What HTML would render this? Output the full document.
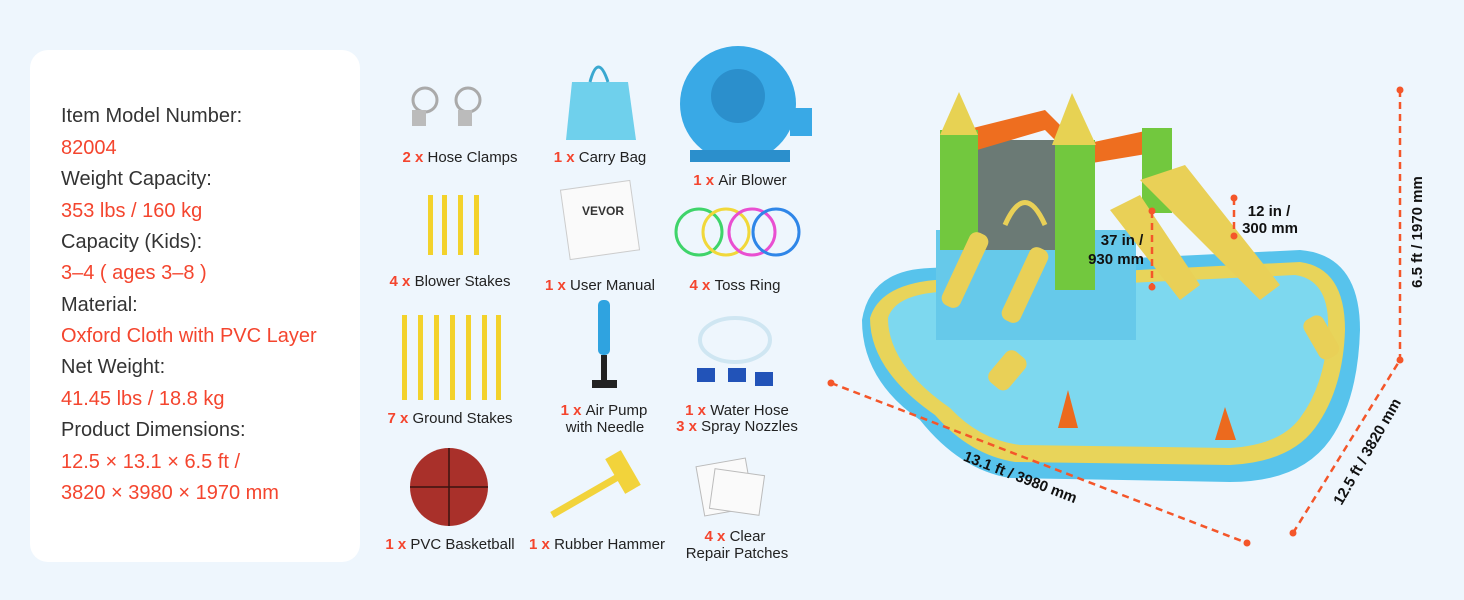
<!DOCTYPE html>
<html><head><meta charset="utf-8"><style>
html,body{margin:0;padding:0;background:#eef6fd;}
svg{display:block;font-family:"Liberation Sans",sans-serif;}
</style></head><body>
<svg width="1464" height="600" viewBox="0 0 1464 600" xmlns="http://www.w3.org/2000/svg">
<rect width="1464" height="600" fill="#eef6fd"/>
<rect x="30" y="50" width="330" height="512" rx="18" fill="#ffffff"/>
<g font-size="20" fill="#333">
<text x="61" y="122">Item Model Number:</text>
<text x="61" y="154" fill="#f4452e">82004</text>
<text x="61" y="185">Weight Capacity:</text>
<text x="61" y="217" fill="#f4452e">353 lbs / 160 kg</text>
<text x="61" y="248">Capacity (Kids):</text>
<text x="61" y="279" fill="#f4452e">3–4 ( ages 3–8 )</text>
<text x="61" y="311">Material:</text>
<text x="61" y="342" fill="#f4452e">Oxford Cloth with PVC Layer</text>
<text x="61" y="373">Net Weight:</text>
<text x="61" y="405" fill="#f4452e">41.45 lbs / 18.8 kg</text>
<text x="61" y="436">Product Dimensions:</text>
<text x="61" y="468" fill="#f4452e">12.5 × 13.1 × 6.5 ft /</text>
<text x="61" y="499" fill="#f4452e">3820 × 3980 × 1970 mm</text>
</g>

<g>
<circle cx="425" cy="100" r="12" fill="none" stroke="#aaa" stroke-width="3"/>
<circle cx="468" cy="100" r="12" fill="none" stroke="#aaa" stroke-width="3"/>
<rect x="412" y="110" width="14" height="16" fill="#bbb"/><rect x="458" y="110" width="14" height="16" fill="#bbb"/>
<path d="M572 82 L628 82 L636 140 L566 140 Z" fill="#6fd0ec"/>
<path d="M590 82 Q598 52 608 82" fill="none" stroke="#3aa8d0" stroke-width="3"/>
<circle cx="738" cy="104" r="58" fill="#39a9e6"/>
<circle cx="738" cy="96" r="27" fill="#2b8fcc"/>
<rect x="790" y="108" width="22" height="28" fill="#39a9e6"/>
<rect x="690" y="150" width="100" height="12" fill="#2b8fcc"/>
<g fill="#f3d22b"><rect x="428" y="195" width="5" height="60"/><rect x="442" y="195" width="5" height="60"/><rect x="458" y="195" width="5" height="60"/><rect x="474" y="195" width="5" height="60"/></g>
<rect x="565" y="185" width="70" height="70" fill="#fafafa" stroke="#ccc" transform="rotate(-8 600 220)"/>
<text x="582" y="215" font-size="12" font-weight="bold" fill="#333">VEVOR</text>
<circle cx="699" cy="232" r="23" fill="none" stroke="#3fd46a" stroke-width="3"/>
<circle cx="726" cy="232" r="23" fill="none" stroke="#f1d83a" stroke-width="3"/>
<circle cx="752" cy="232" r="23" fill="none" stroke="#e94fd1" stroke-width="3"/>
<circle cx="776" cy="232" r="23" fill="none" stroke="#2f86e8" stroke-width="3"/>
<g fill="#f3d22b"><rect x="402" y="315" width="5" height="85"/><rect x="418" y="315" width="5" height="85"/><rect x="434" y="315" width="5" height="85"/><rect x="450" y="315" width="5" height="85"/><rect x="466" y="315" width="5" height="85"/><rect x="482" y="315" width="5" height="85"/><rect x="496" y="315" width="5" height="85"/></g>
<rect x="598" y="300" width="12" height="55" rx="5" fill="#2fa3e0"/>
<rect x="601" y="355" width="6" height="25" fill="#222"/>
<rect x="592" y="380" width="25" height="8" fill="#222"/>
<ellipse cx="735" cy="340" rx="35" ry="22" fill="none" stroke="#cfe6f2" stroke-width="4"/>
<rect x="697" y="368" width="18" height="14" fill="#2253b8"/><rect x="728" y="368" width="18" height="14" fill="#2253b8"/><rect x="755" y="372" width="18" height="14" fill="#2253b8"/>
<circle cx="449" cy="487" r="39" fill="#a9302a"/>
<path d="M410 487 H488 M449 448 V526" stroke="#3a1210" stroke-width="1.5"/>
<path d="M552 515 L630 470" stroke="#f2d33b" stroke-width="7"/>
<rect x="614" y="452" width="18" height="40" fill="#f2d33b" transform="rotate(-30 623 472)"/>
<rect x="700" y="462" width="50" height="50" fill="#fafafa" stroke="#bbb" transform="rotate(-10 725 487)"/>
<rect x="712" y="472" width="50" height="40" fill="#fafafa" stroke="#bbb" transform="rotate(8 737 492)"/>
</g>

<g font-size="15" fill="#222" text-anchor="middle">
<text x="460" y="162"><tspan fill="#f4452e" font-weight="bold">2 x </tspan>Hose Clamps</text>
<text x="600" y="162"><tspan fill="#f4452e" font-weight="bold">1 x </tspan> Carry Bag</text>
<text x="740" y="185"><tspan fill="#f4452e" font-weight="bold">1 x </tspan>Air Blower</text>
<text x="450" y="286"><tspan fill="#f4452e" font-weight="bold">4 x </tspan>Blower Stakes</text>
<text x="600" y="290"><tspan fill="#f4452e" font-weight="bold">1 x </tspan>User Manual</text>
<text x="735" y="290"><tspan fill="#f4452e" font-weight="bold">4 x </tspan> Toss Ring</text>
<text x="450" y="423"><tspan fill="#f4452e" font-weight="bold">7 x </tspan>Ground Stakes</text>
<text x="604" y="415"><tspan fill="#f4452e" font-weight="bold">1 x </tspan>Air Pump</text>
<text x="605" y="432">with Needle</text>
<text x="737" y="415"><tspan fill="#f4452e" font-weight="bold">1 x </tspan>Water Hose</text>
<text x="737" y="431"><tspan fill="#f4452e" font-weight="bold">3 x </tspan>Spray Nozzles</text>
<text x="450" y="549"><tspan fill="#f4452e" font-weight="bold">1 x </tspan>PVC Basketball</text>
<text x="597" y="549"><tspan fill="#f4452e" font-weight="bold">1 x </tspan>Rubber Hammer</text>
<text x="735" y="541"><tspan fill="#f4452e" font-weight="bold">4 x </tspan>Clear</text>
<text x="737" y="558">Repair Patches</text>
</g>

<path d="M862 320 Q870 270 930 268 L1300 250 Q1360 255 1360 330 Q1358 400 1330 440 Q1300 482 1230 482 L1010 478 Q960 470 920 420 Q862 380 862 320 Z" fill="#57c3ec"/>
<path d="M870 318 Q880 285 935 280 L1300 262 Q1345 268 1345 330 Q1343 390 1315 428 Q1290 462 1230 465 L1015 462 Q970 455 935 415 Q870 370 870 318 Z" fill="#e8d45a"/>
<path d="M888 318 Q895 295 940 292 L1295 275 Q1330 280 1328 330 Q1325 385 1300 418 Q1280 445 1230 448 L1020 445 Q980 440 950 408 Q888 365 888 318 Z" fill="#7dd8ef"/>
<rect x="936" y="230" width="200" height="110" fill="#66c9ea"/>
<rect x="960" y="140" width="120" height="110" fill="#6b7a75"/>
<path d="M945 135 L1045 110 L1080 145 L1150 130 L1170 150 L1080 165 L1045 130 L960 155 Z" fill="#ee6e1f"/>
<rect x="940" y="130" width="38" height="120" fill="#72c83e"/>
<path d="M940 135 L959 92 L978 135 Z" fill="#e7d253"/>
<rect x="1055" y="140" width="40" height="150" fill="#72c83e"/>
<path d="M1052 145 L1072 93 L1096 145 Z" fill="#e7d253"/>
<rect x="1142" y="128" width="30" height="85" fill="#72c83e"/>
<path d="M1140 180 L1185 165 L1280 285 L1260 300 Z" fill="#e9d057"/>
<path d="M1110 210 L1140 195 L1200 285 L1180 300 Z" fill="#e9d057"/>
<rect x="955" y="230" width="20" height="80" rx="8" fill="#e9d057" transform="rotate(25 965 270)"/>
<rect x="1015" y="245" width="20" height="80" rx="8" fill="#e9d057" transform="rotate(25 1025 285)"/>
<path d="M1005 225 Q1025 180 1045 225" fill="none" stroke="#e9d057" stroke-width="5"/>
<rect x="995" y="350" width="25" height="40" rx="8" fill="#e9d057" transform="rotate(40 1007 370)"/>
<rect x="1310" y="315" width="22" height="45" rx="8" fill="#e9d057" transform="rotate(-30 1321 337)"/>
<path d="M1058 428 L1068 390 L1078 428 Z" fill="#ec6a1e"/>
<path d="M1215 440 L1225 407 L1236 440 Z" fill="#ec6a1e"/>

<g stroke="#f4562a" stroke-width="2.5" stroke-dasharray="7,5" fill="none">
<line x1="831" y1="383" x2="1247" y2="543"/>
<line x1="1293" y1="533" x2="1400" y2="360"/>
<line x1="1400" y1="90" x2="1400" y2="360"/>
<line x1="1152" y1="211" x2="1152" y2="287"/>
<line x1="1234" y1="198" x2="1234" y2="236"/>
</g>
<g fill="#f4562a">
<circle cx="831" cy="383" r="3.5"/><circle cx="1247" cy="543" r="3.5"/><circle cx="1293" cy="533" r="3.5"/><circle cx="1400" cy="360" r="3.5"/><circle cx="1400" cy="90" r="3.5"/>
<circle cx="1152" cy="211" r="3.5"/><circle cx="1152" cy="287" r="3.5"/><circle cx="1234" cy="198" r="3.5"/><circle cx="1234" cy="236" r="3.5"/>
</g>
<g font-size="15" font-weight="bold" fill="#111">
<text x="1020" y="482" text-anchor="middle" transform="rotate(21 1020 478)">13.1 ft / 3980 mm</text>
<text x="1368" y="456" text-anchor="middle" transform="rotate(-60 1368 452)">12.5 ft / 3820 mm</text>
<text x="1418" y="236" text-anchor="middle" transform="rotate(-90 1418 232)">6.5 ft / 1970 mm</text>
<text x="1122" y="245" text-anchor="middle">37 in /</text>
<text x="1116" y="264" text-anchor="middle">930 mm</text>
<text x="1269" y="216" text-anchor="middle">12 in /</text>
<text x="1270" y="233" text-anchor="middle">300 mm</text>
</g>
</svg>
</body></html>
